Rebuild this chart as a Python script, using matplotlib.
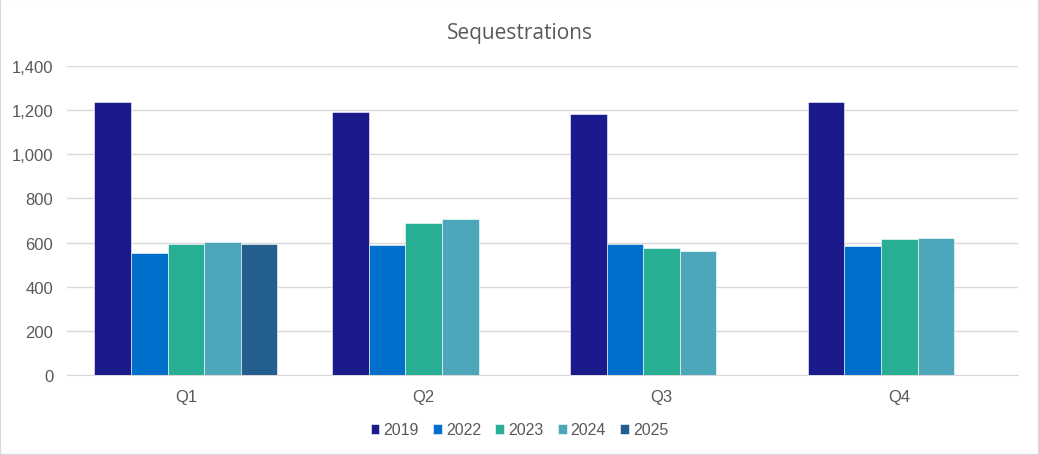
import numpy as np
from matplotlib import pyplot as plt
from matplotlib.ticker import FuncFormatter
from matplotlib.patches import Rectangle

quarters = ["Q1", "Q2", "Q3", "Q4"]
years = ["2019", "2022", "2023", "2024", "2025"]
s2019 = [1235, 1190, 1183, 1235]
s2022 = [553, 588, 592, 583]
s2023 = [593, 690, 577, 618]
s2024 = [603, 707, 563, 621]
s2025 = [595, np.nan, np.nan, np.nan]
series = [s2019, s2022, s2023, s2024, s2025]
colors = ["#1a1a8c", "#0070cc", "#28ae93", "#4ba7b9", "#245e8f"]

plt.rcParams['font.family'] = ['Liberation Sans', 'DejaVu Sans']

fig = plt.figure(figsize=(10.39, 4.56), dpi=100)
ax = fig.add_axes([0.0645, 0.1754, 0.9155, 0.6776])

x = np.arange(len(quarters))
width = 0.154
for i, (year, vals) in enumerate(zip(years, series)):
    offs = (i - 2) * width
    ax.bar(x + offs, vals, width, color=colors[i], label=year,
           edgecolor='white', linewidth=0.4, zorder=3)

ax.set_xlim(-0.5, 3.5)
ax.set_ylim(0, 1400)
ax.set_yticks(range(0, 1401, 200))
ax.yaxis.set_major_formatter(FuncFormatter(lambda v, p: "{:,.0f}".format(v)))
ax.set_xticks(x)
ax.set_xticklabels(quarters)
ax.grid(axis='y', color='#d9d9d9', linewidth=1, zorder=0)
for s in ['top', 'right', 'left']:
    ax.spines[s].set_visible(False)
ax.spines['bottom'].set_color('#d9d9d9')
ax.tick_params(axis='both', length=0, labelsize=12, colors='#595959')
ax.tick_params(axis='x', pad=10)
ax.tick_params(axis='y', pad=10)

fig.text(0.5, 0.926, "Sequestrations", ha='center', va='center',
         fontsize=15, color='#595959', family=['Open Sans', 'DejaVu Sans'])

leg = fig.legend(loc='center', bbox_to_anchor=(0.5, 0.055), ncol=5, frameon=False,
                 fontsize=11.5, handlelength=0.55, handleheight=0.55, handletextpad=0.25,
                 columnspacing=0.9)
for t in leg.get_texts():
    t.set_color('#595959')

fig.patches.append(Rectangle((0, 0), 1, 1, transform=fig.transFigure, fill=False,
                             edgecolor='#d9d9d9', linewidth=1.5))

fig.savefig("out.png", dpi=100)
